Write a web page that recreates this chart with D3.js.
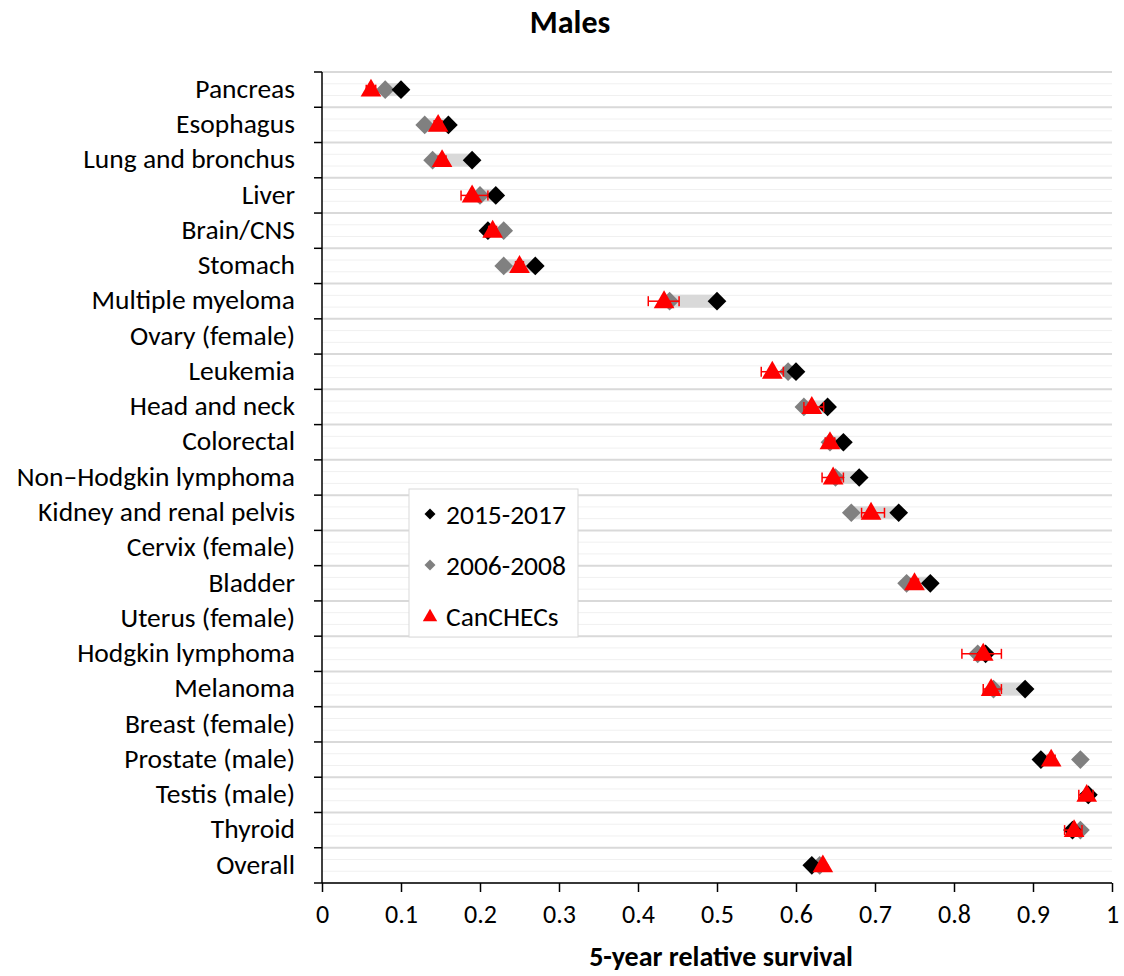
<!DOCTYPE html>
<html><head><meta charset="utf-8">
<script src="https://cdn.jsdelivr.net/npm/d3@7"></script>
<style>body{margin:0;background:#fff;} svg{display:block;}</style>
</head><body>
<svg id="chart" width="1124" height="976"></svg>
<script>
const categories = ["Pancreas","Esophagus","Lung and bronchus","Liver","Brain/CNS","Stomach","Multiple myeloma","Ovary (female)","Leukemia","Head and neck","Colorectal","Non\u2013Hodgkin lymphoma","Kidney and renal pelvis","Cervix (female)","Bladder","Uterus (female)","Hodgkin lymphoma","Melanoma","Breast (female)","Prostate (male)","Testis (male)","Thyroid","Overall"];
const s2015 = [0.10,0.16,0.19,0.22,0.21,0.27,0.50,null,0.60,0.64,0.66,0.68,0.73,null,0.77,null,0.84,0.89,null,0.91,0.97,0.95,0.62];
const s2006 = [0.08,0.13,0.14,0.20,0.23,0.23,0.44,null,0.59,0.61,0.643,0.65,0.67,null,0.74,null,0.83,0.85,null,0.96,0.97,0.96,0.63];
const canchec = [0.062,0.147,0.152,0.19,0.216,0.25,0.433,null,0.57,0.62,0.643,0.647,0.695,null,0.75,null,0.837,0.847,null,0.923,0.968,0.952,0.634];
const cancheLo = [0.056,0.142,0.147,0.176,0.211,0.245,0.413,null,0.556,0.61,0.637,0.633,0.683,null,0.745,null,0.81,0.837,null,0.918,0.958,0.94,0.631];
const cancheHi = [0.068,0.152,0.157,0.21,0.221,0.255,0.452,null,0.584,0.635,0.649,0.66,0.712,null,0.755,null,0.86,0.86,null,0.928,0.976,0.962,0.637];
const xTicks = [0,0.1,0.2,0.3,0.4,0.5,0.6,0.7,0.8,0.9,1];
const legendLabels = ["2015-2017","2006-2008","CanCHECs"];

const FONT = "Carlito, Calibri, Lato, 'Open Sans', sans-serif";
const svg = d3.select("#chart");
const L = 322, R = 1112, T = 72, B = 883;
const x = d3.scaleLinear().domain([0,1]).range([L,R]);
const y = d3.scaleBand().domain(categories).range([T,B]).padding(0);
const bw = y.bandwidth();

// gridlines
const g = svg.append("g");
categories.forEach(c => {
  const y0 = y(c);
  [1/3, 2/3].forEach(f => g.append("line").attr("x1",L).attr("x2",R).attr("y1",y0+bw*f).attr("y2",y0+bw*f).attr("stroke","#f0f0f0").attr("stroke-width",1));
});
const bounds = categories.map(c => y(c)).concat([B]);
bounds.forEach(v => g.append("line").attr("x1",L).attr("x2",R).attr("y1",v).attr("y2",v).attr("stroke","#d9d9d9").attr("stroke-width",2));

// bars between 2006 and 2015 (improvement)
categories.forEach((c,i) => {
  if (s2015[i]==null || s2006[i]==null) return;
  if (s2015[i] > s2006[i]) {
    svg.append("rect").attr("x",x(s2006[i])).attr("width",x(s2015[i])-x(s2006[i]))
      .attr("y",y(c)+bw/2-6.5).attr("height",13).attr("fill","#d9d9d9");
  }
});

// axes
const xAxis = svg.append("g").attr("transform",`translate(0,${B})`)
  .call(d3.axisBottom(x).tickValues(xTicks).tickSize(9).tickFormat(d=>d===0||d===1?String(d):d3.format(".1f")(d)));
xAxis.select(".domain").attr("stroke","#000").attr("stroke-width",1.5).attr("d",`M${L},0H${R}`);
xAxis.selectAll(".tick line").attr("stroke","#000").attr("stroke-width",1.5);
xAxis.selectAll(".tick text").attr("font-family",FONT).attr("font-size",26).attr("fill","#000").attr("y",31).attr("dy","0.35em");

const yAxis = svg.append("g").attr("transform",`translate(${L},0)`);
yAxis.append("line").attr("x1",0).attr("x2",0).attr("y1",T).attr("y2",B).attr("stroke","#000").attr("stroke-width",1.5);
bounds.forEach(v => yAxis.append("line").attr("x1",-8).attr("x2",0).attr("y1",v).attr("y2",v).attr("stroke","#000").attr("stroke-width",1.5));
categories.forEach(c => yAxis.append("text").attr("x",-27).attr("y",y(c)+bw/2).attr("dy","0.3em")
  .attr("text-anchor","end").attr("font-family",FONT).attr("font-size",27.5).attr("fill","#000").text(c));

const diamond = d3.symbol().type(d3.symbolSquare).size(175);
const tri = d3.symbol().type(d3.symbolTriangle).size(185);

// 2006 gray diamonds
categories.forEach((c,i) => {
  if (s2006[i]==null) return;
  svg.append("path").attr("d",diamond).attr("fill","#808080")
    .attr("transform",`translate(${x(s2006[i])},${y(c)+bw/2}) rotate(45)`);
});
// 2015 black diamonds
categories.forEach((c,i) => {
  if (s2015[i]==null) return;
  svg.append("path").attr("d",diamond).attr("fill","#000")
    .attr("transform",`translate(${x(s2015[i])},${y(c)+bw/2}) rotate(45)`);
});
// CanCHECs error bars and triangles
categories.forEach((c,i) => {
  if (canchec[i]==null) return;
  const cy = y(c)+bw/2;
  const eg = svg.append("g").attr("stroke","#ff0000").attr("stroke-width",1.5);
  eg.append("line").attr("x1",x(cancheLo[i])).attr("x2",x(cancheHi[i])).attr("y1",cy).attr("y2",cy);
  [cancheLo[i],cancheHi[i]].forEach(v => eg.append("line").attr("x1",x(v)).attr("x2",x(v)).attr("y1",cy-5).attr("y2",cy+5));
  svg.append("path").attr("d",tri).attr("fill","#ff0000")
    .attr("transform",`translate(${x(canchec[i])},${cy+1})`);
});

// legend
const lg = svg.append("g");
lg.append("rect").attr("x",409).attr("y",489).attr("width",169).attr("height",148).attr("fill","#fff").attr("stroke","#d9d9d9").attr("stroke-width",1);
const ly = [514,565,616];
legendLabels.forEach((t,i) => {
  if (i<2) lg.append("path").attr("d",d3.symbol().type(d3.symbolSquare).size(60)).attr("fill",i===0?"#000":"#808080")
    .attr("transform",`translate(430,${ly[i]}) rotate(45)`);
  else lg.append("path").attr("d",d3.symbol().type(d3.symbolTriangle).size(90)).attr("fill","#ff0000")
    .attr("transform",`translate(430,${ly[i]+1})`);
  lg.append("text").attr("x",446).attr("y",ly[i]).attr("dy","0.35em").attr("font-family",FONT).attr("font-size",27.5).attr("fill","#000").text(t);
});

// titles
svg.append("text").attr("x",570).attr("y",22).attr("dy","0.35em").attr("text-anchor","middle").attr("font-family",FONT).attr("font-weight","bold").attr("font-size",32).text("Males");
svg.append("text").attr("x",721).attr("y",956).attr("dy","0.35em").attr("text-anchor","middle").attr("font-family",FONT).attr("font-weight","bold").attr("font-size",28).text("5-year relative survival");
</script>
</body></html>
